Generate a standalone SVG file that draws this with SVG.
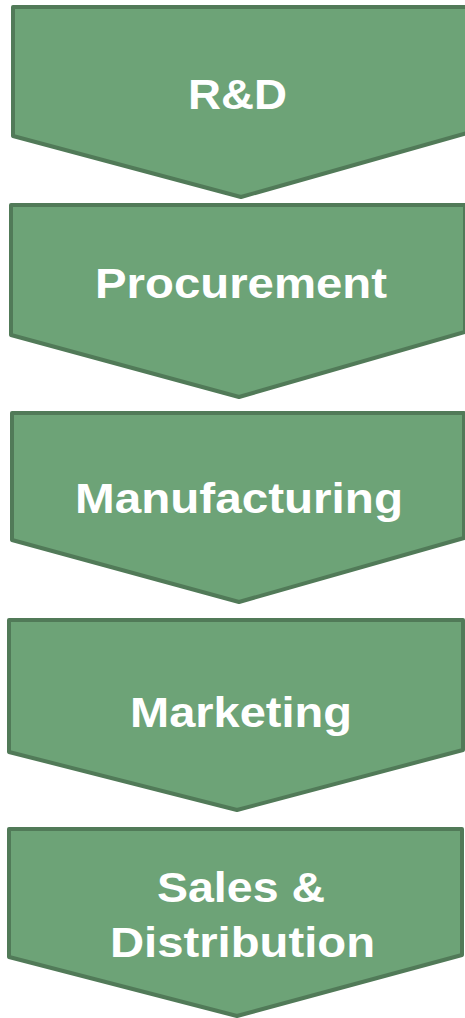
<svg xmlns="http://www.w3.org/2000/svg" width="465" height="1018" viewBox="0 0 465 1018">
<style>
.shape{fill:#6da377;stroke:#517a58;stroke-width:4;stroke-linejoin:round}
.lbl{font-family:"Liberation Sans",Arial,sans-serif;font-weight:bold;font-size:42px;fill:#ffffff;text-anchor:middle}
</style>
<rect width="465" height="1018" fill="#ffffff"/>
<g id="connectors"></g>
<g id="node-rd">
<polygon class="shape" points="13,7 467,7 467,133 241,197 13,136"/>
<text class="lbl" x="237.5" y="109" textLength="99" lengthAdjust="spacingAndGlyphs">R&amp;D</text>
</g>
<g id="node-procurement">
<polygon class="shape" points="11,205 465,205 465,332 239,397 11,335"/>
<text class="lbl" x="241" y="298" textLength="292" lengthAdjust="spacingAndGlyphs">Procurement</text>
</g>
<g id="node-manufacturing">
<polygon class="shape" points="12,413 464,413 464,538 239,602 12,540"/>
<text class="lbl" x="239" y="513" textLength="328" lengthAdjust="spacingAndGlyphs">Manufacturing</text>
</g>
<g id="node-marketing">
<polygon class="shape" points="9,620 463,620 463,750 237,810 9,752"/>
<text class="lbl" x="241" y="727" textLength="222" lengthAdjust="spacingAndGlyphs">Marketing</text>
</g>
<g id="node-sales">
<polygon class="shape" points="9,829 462,829 462,955 237,1016 9,957"/>
<text class="lbl" x="241" y="902" textLength="168" lengthAdjust="spacingAndGlyphs">Sales &amp;</text>
<text class="lbl" x="242.5" y="957" textLength="265" lengthAdjust="spacingAndGlyphs">Distribution</text>
</g>
</svg>
